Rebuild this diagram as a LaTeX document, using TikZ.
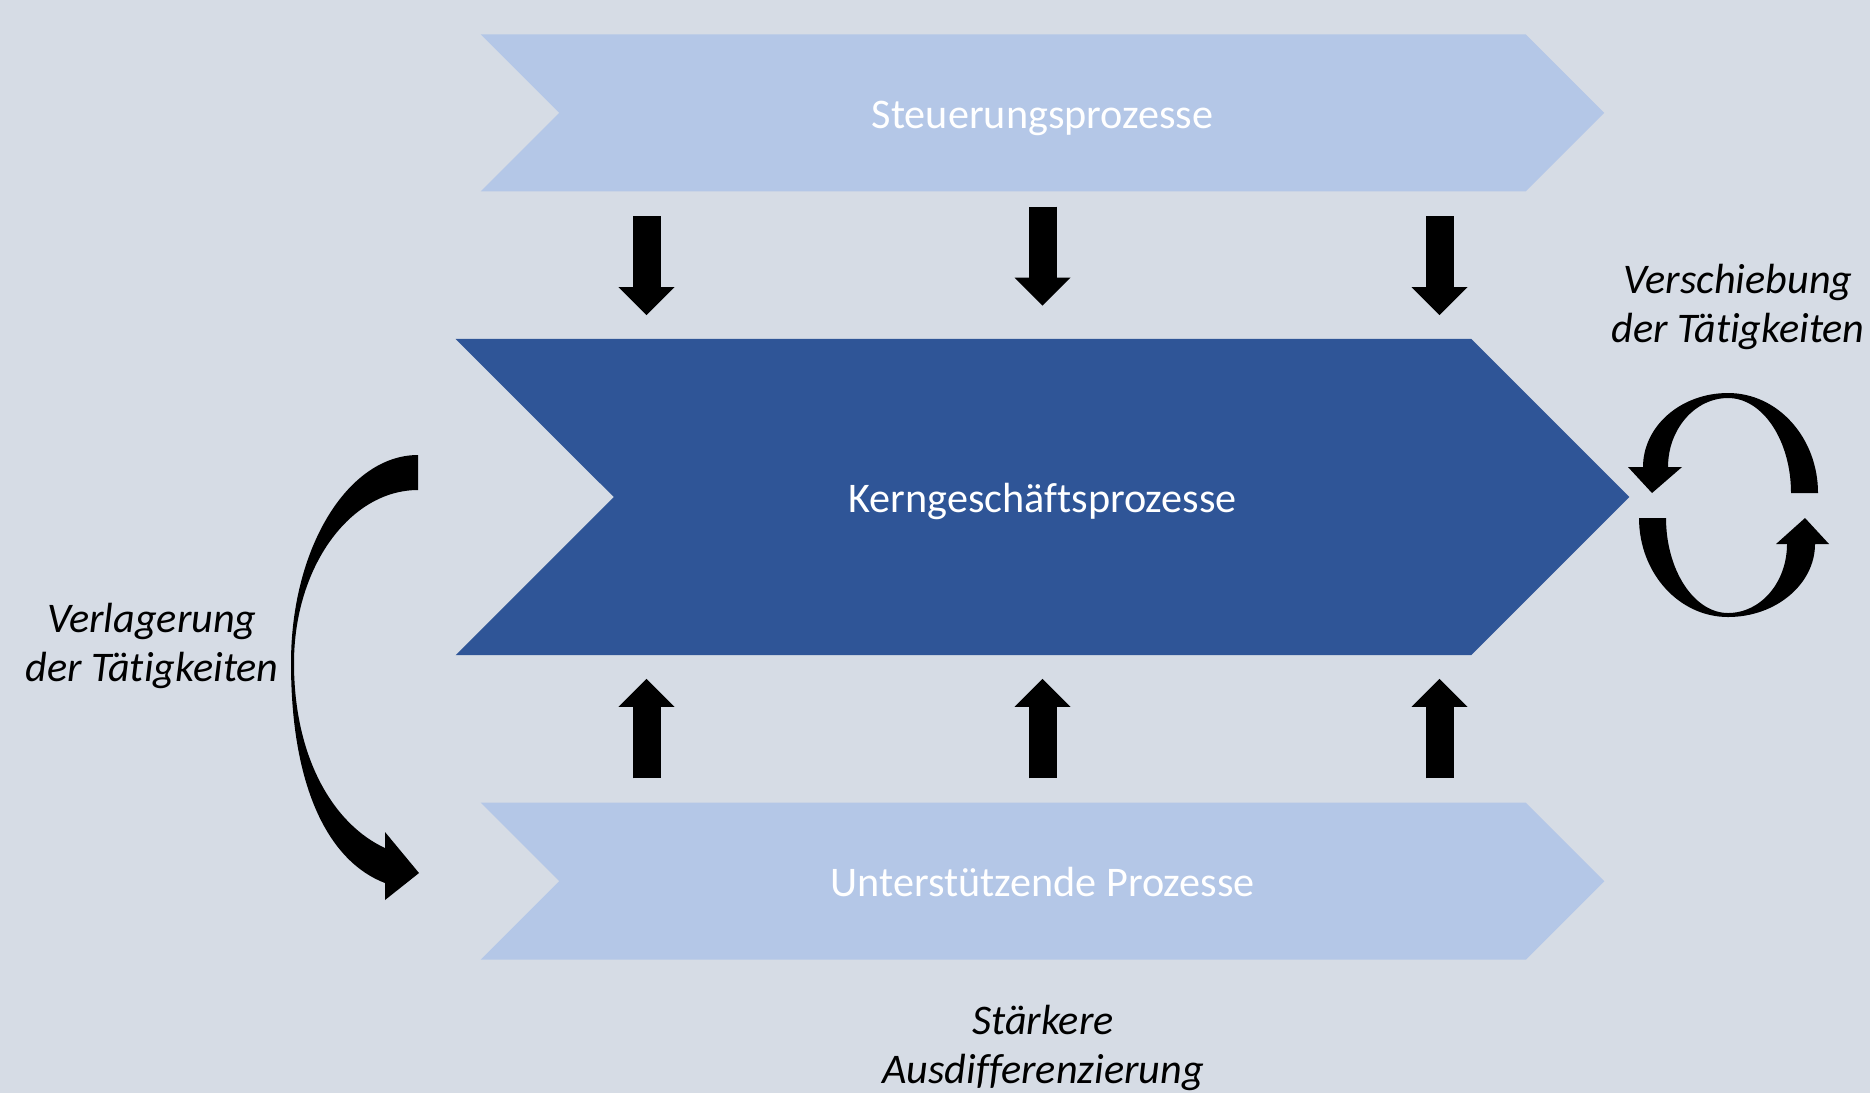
\documentclass[tikz,border=0pt]{standalone}
\usepackage{fontspec}
\setmainfont{Carlito}[Ligatures=NoCommon]
\usetikzlibrary{shapes.symbols, arrows.meta, positioning, calc}

\definecolor{bgcol}{HTML}{D6DCE5}
\definecolor{lightblue}{HTML}{B4C7E7}
\definecolor{darkblue}{HTML}{2F5597}

\begin{document}
\begin{tikzpicture}[x=0.01cm, y=-0.01cm,
    chevron/.style={signal, signal from=west, signal to=east, signal pointer angle=90, inner sep=0pt, text height=8.8pt, text depth=0pt, text=white, font=\fontsize{12}{14.4}\selectfont},
    lightchev/.style={chevron, fill=lightblue, minimum width=11.23cm, minimum height=1.57cm},
    darkchev/.style={chevron, fill=darkblue, minimum width=11.73cm, minimum height=3.16cm},
    blockarr/.style={draw=black, line width=0.28cm, -{Triangle[width=0.56cm, length=0.28cm, line width=0pt]}},
    notetext/.style={align=center, anchor=base, inner sep=0pt, font=\fontsize{12}{13.9}\selectfont\itshape}]

    \useasboundingbox (0,0) rectangle (1870,1093);
    \fill[bgcol] (0,0) rectangle (1870,1093);

    % process chevrons
    \node [darkchev] (kern) at (1042.5,497) {Kerngeschäftsprozesse};
    \node [lightchev, above=1.46cm of kern] (steuer) {Steuerungsprozesse};
    \node [lightchev, below=1.46cm of kern] (unter) {Unterstützende Prozesse};

    % block arrows
    \foreach \dx/\a/\b in {-396/24/23, 0/14.5/32.5, 397/24/23}
        \draw [blockarr] ($(steuer.south)+(\dx,\a)$) -- ($(kern.north)+(\dx,-\b)$);
    \foreach \dx in {-396, 0, 397}
        \draw [blockarr] ($(unter.north)+(\dx,-23.5)$) -- ($(kern.south)+(\dx,23)$);

    % curved arrow (Verlagerung)
    \fill (418,455) .. controls (348,455) and (291,548) .. (291,663)
        .. controls (291,790) and (330,862) .. (385,883)
        -- (385,900) -- (419,873) -- (385,832) -- (385,848)
        .. controls (335,825) and (294,760) .. (294,663)
        .. controls (294,567) and (350,490) .. (418,490) -- cycle;

    % circular arrows (Verschiebung)
    \fill (1643,467) .. controls (1643,426) and (1681,393) .. (1728,393)
        .. controls (1778,393) and (1818,438) .. (1818,493)
        -- (1791,493)
        .. controls (1791,441) and (1763,398) .. (1728,398)
        .. controls (1695,398) and (1668,429) .. (1668,467)
        -- (1682,467) -- (1652,493) -- (1628,467) -- cycle;
    \fill (1639,518) .. controls (1639,573) and (1679,617) .. (1728,617)
        .. controls (1776,617) and (1815,584) .. (1815,544)
        -- (1829,544) -- (1805,518) -- (1776,544) -- (1787,544)
        .. controls (1787,582) and (1761,613) .. (1728,613)
        .. controls (1694,613) and (1666,570) .. (1666,518) -- cycle;

    % labels (base = last line)
    \node [notetext] (verschiebung) at (1738,342) {Verschiebung\\der Tätigkeiten};
    \node [notetext] (verlagerung) at (152,681) {Verlagerung\\der Tätigkeiten};
    \node [notetext] (ausdiff) at (1043,1083) {Stärkere\\Ausdifferenzierung};
\end{tikzpicture}
\end{document}
